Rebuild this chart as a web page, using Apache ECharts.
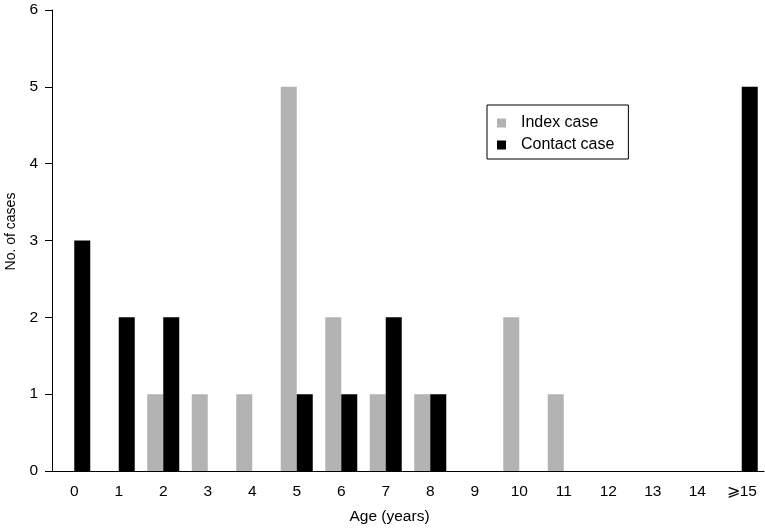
<!DOCTYPE html>
<html><head><meta charset="utf-8">
<script src="https://cdn.jsdelivr.net/npm/echarts@6/dist/echarts.min.js"></script>
<style>html,body{margin:0;padding:0;background:#fff}#c{width:765px;height:531px}</style>
</head><body><div id="c"></div>
<script>
var categories = ['0','1','2','3','4','5','6','7','8','9','10','11','12','13','14','\u2a7e15'];
var indexCase = [0,0,1,1,1,5,2,1,1,0,2,1,0,0,0,0];
var contactCase = [3,2,2,0,0,1,1,2,1,0,0,0,0,0,0,5];
var yTicks = [0,1,2,3,4,5,6];
var font = 'Liberation Sans, Arial, Helvetica, sans-serif';
var chart = echarts.init(document.getElementById('c'));
chart.setOption({
  animation: false,
  grid: {left: 52, right: 1, top: 10, bottom: 60, containLabel: false, outerBoundsMode: 'none'},
  legend: {
    orient: 'vertical', left: 487, top: 105,
    padding: [10, 14, 6, 10], itemGap: 6,
    borderColor: '#000', borderWidth: 1,
    icon: 'rect', itemWidth: 9, itemHeight: 9,
    textStyle: {fontFamily: font, fontSize: 16, lineHeight: 16, color: '#000', padding: [0,0,0,10]},
    data: ['Index case', 'Contact case']
  },
  xAxis: {
    type: 'category', data: categories,
    name: 'Age (years)', nameLocation: 'middle', nameGap: 38,
    nameTextStyle: {fontFamily: font, fontSize: 15.5, color: '#000', padding: [0, 37, 0, 0]},
    axisLine: {lineStyle: {color: '#000', width: 1}},
    axisTick: {length: 6, lineStyle: {color: '#000'}},
    axisLabel: {fontFamily: font, fontSize: 15.5, color: '#000', margin: 13}
  },
  yAxis: {
    type: 'value', min: 0, max: 6, interval: 1,
    name: 'No. of cases', nameLocation: 'middle', nameGap: 34,
    nameTextStyle: {fontFamily: font, fontSize: 14, color: '#000', padding: [0, 0, 0, 18]},
    axisLine: {show: true, lineStyle: {color: '#000', width: 1}},
    axisTick: {show: true, length: 7, lineStyle: {color: '#000'}},
    axisLabel: {fontFamily: font, fontSize: 15.5, color: '#000', margin: 14,
      formatter: function(v){ return yTicks.indexOf(v) >= 0 ? String(v) : ''; }},
    splitLine: {show: false}
  },
  series: [
    {name: 'Index case', type: 'bar', data: indexCase, barWidth: 16, barGap: '0%',
     itemStyle: {color: '#b3b3b3'}},
    {name: 'Contact case', type: 'bar', data: contactCase, barWidth: 16, barGap: '0%',
     itemStyle: {color: '#000'}}
  ]
});
</script></body></html>
